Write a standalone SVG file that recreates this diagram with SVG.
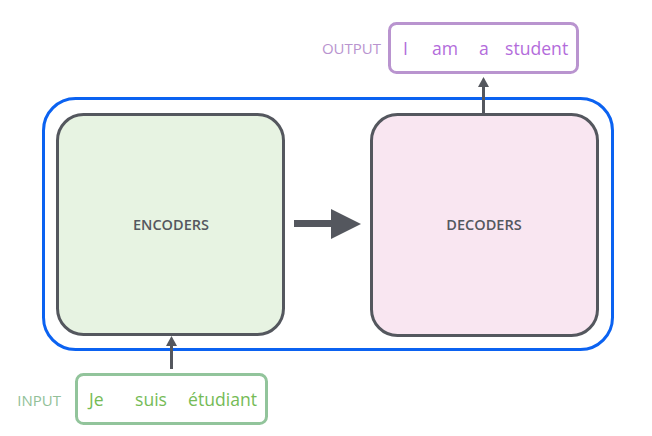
<svg xmlns="http://www.w3.org/2000/svg" width="652" height="436" viewBox="0 0 652 436">
<style>
.blk{stroke:#54575e;stroke-width:3}
.lbl{font-family:"Open Sans","Noto Sans",sans-serif;font-size:14.5px;fill:#54575e;text-anchor:middle;font-weight:600}
.w{font-family:"Open Sans","Noto Sans",sans-serif;font-size:17.6px}
.tag{font-family:"Open Sans","Noto Sans",sans-serif;font-size:15px}
</style>
<rect width="652" height="436" fill="#ffffff"/>
<g id="container">
<rect x="43.5" y="98.5" width="569" height="251" rx="32" fill="none" stroke="#0b62f1" stroke-width="3"/>
</g>
<g id="encoders">
<rect x="57.5" y="114.5" width="226" height="220" rx="26" fill="#e7f3e2" class="blk"/>
<text x="171" y="230" class="lbl">ENCODERS</text>
</g>
<g id="decoders">
<rect x="371.5" y="114.5" width="226" height="221" rx="26" fill="#f9e6f1" class="blk"/>
<text x="484" y="230" class="lbl">DECODERS</text>
</g>
<g id="output">
<text x="381" y="54" class="tag" fill="#b994cf" text-anchor="end">OUTPUT</text>
<rect x="389.5" y="23.5" width="188" height="49" rx="7" fill="#ffffff" stroke="#b994cf" stroke-width="3"/>
<g class="w" fill="#b36cdb">
<text x="403" y="55">I</text>
<text x="432" y="55">am</text>
<text x="479" y="55">a</text>
<text x="505" y="55">student</text>
</g>
</g>
<g id="input">
<text x="61" y="406" class="tag" fill="#92bf98" text-anchor="end">INPUT</text>
<rect x="76.5" y="374.5" width="190" height="49" rx="7" fill="#ffffff" stroke="#92c49b" stroke-width="3"/>
<g class="w" fill="#75bb56">
<text x="89" y="406">Je</text>
<text x="135" y="406">suis</text>
<text x="188" y="406">étudiant</text>
</g>
</g>
<g id="connectors">
<line x1="294" y1="223.5" x2="333" y2="223.5" stroke="#54575e" stroke-width="7"/>
<path d="M331,209 L361,224 L331,239 Z" fill="#54575e"/>
<line x1="483.5" y1="113" x2="483.5" y2="86" stroke="#54575e" stroke-width="3"/>
<path d="M478,87 L483.5,77 L489,87 Z" fill="#54575e"/>
<line x1="171.5" y1="369" x2="171.5" y2="345" stroke="#54575e" stroke-width="3"/>
<path d="M166,346 L171.5,336 L177,346 Z" fill="#54575e"/>
</g>
</svg>
